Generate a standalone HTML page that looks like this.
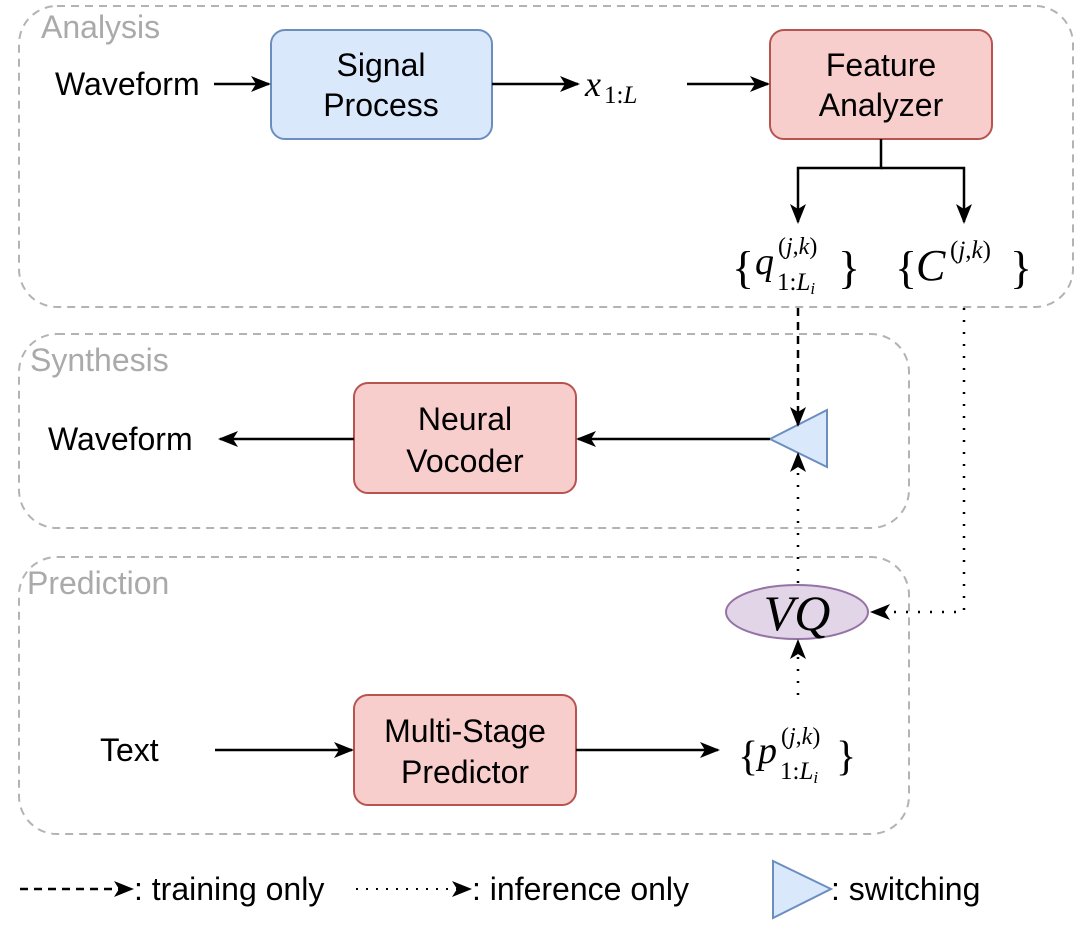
<!DOCTYPE html>
<html><head><meta charset="utf-8"><style>
html,body{margin:0;padding:0;background:#fff;width:1080px;height:944px;overflow:hidden}
svg{display:block}
.t{font-family:"Liberation Sans",sans-serif;font-size:32px;fill:#000}
.g{font-family:"Liberation Sans",sans-serif;font-size:32px;fill:#aaa}
.m{font-family:"Liberation Serif",serif;fill:#000}
</style></head><body>
<svg width="1080" height="944" viewBox="0 0 1080 944" xmlns="http://www.w3.org/2000/svg">
<defs>
<marker id="a" viewBox="0 0 20 20" refX="18" refY="10" markerWidth="20" markerHeight="20" markerUnits="userSpaceOnUse" orient="auto">
<path d="M0,2 L20,10 L0,18 L5,10 Z" fill="#000"/>
</marker>
</defs>
<rect x="19" y="6" width="1054" height="301" rx="38" fill="none" stroke="#b3b3b3" stroke-width="2" stroke-dasharray="8,6"/>
<rect x="19" y="334" width="890" height="194" rx="38" fill="none" stroke="#b3b3b3" stroke-width="2" stroke-dasharray="8,6"/>
<rect x="19" y="557" width="890" height="277" rx="38" fill="none" stroke="#b3b3b3" stroke-width="2" stroke-dasharray="8,6"/>
<text class="g" x="41" y="38">Analysis</text>
<text class="g" x="30" y="371">Synthesis</text>
<text class="g" x="27" y="594">Prediction</text>

<rect x="271" y="30" width="221" height="109" rx="14" fill="#dae8fc" stroke="#6c8ebf" stroke-width="2"/>
<text class="t" x="381" y="76" text-anchor="middle">Signal</text>
<text class="t" x="381" y="116" text-anchor="middle">Process</text>

<rect x="770" y="30" width="222" height="109" rx="14" fill="#f8cecc" stroke="#b85450" stroke-width="2"/>
<text class="t" x="881" y="76" text-anchor="middle">Feature</text>
<text class="t" x="881" y="116" text-anchor="middle">Analyzer</text>

<rect x="354" y="383" width="222" height="110" rx="14" fill="#f8cecc" stroke="#b85450" stroke-width="2"/>
<text class="t" x="465" y="430" text-anchor="middle">Neural</text>
<text class="t" x="465" y="472" text-anchor="middle">Vocoder</text>

<rect x="354" y="695" width="222" height="110" rx="14" fill="#f8cecc" stroke="#b85450" stroke-width="2"/>
<text class="t" x="465" y="742" text-anchor="middle">Multi-Stage</text>
<text class="t" x="465" y="783" text-anchor="middle">Predictor</text>

<polygon points="770,439 827,410 827,467" fill="#dae8fc" stroke="#6c8ebf" stroke-width="2"/>
<ellipse cx="797" cy="612" rx="71" ry="27" fill="#e1d5e7" stroke="#9673a6" stroke-width="2"/>
<text class="m" x="797" y="630" font-size="50" font-style="italic" text-anchor="middle">VQ</text>

<text class="t" x="55" y="95">Waveform</text>
<text class="t" x="48" y="450">Waveform</text>
<text class="t" x="100" y="761">Text</text>

<text class="m" x="585" y="96" font-size="36" font-style="italic">x</text>
<text class="m" x="604" y="103" font-size="25">1:<tspan font-style="italic">L</tspan></text>

<text class="m" x="732" y="283" font-size="46">{</text>
<text class="m" x="755" y="274" font-size="38" font-style="italic">q</text>
<text class="m" x="778" y="254" font-size="24">(<tspan font-style="italic">j</tspan>,<tspan font-style="italic">k</tspan>)</text>
<text class="m" x="777" y="290" font-size="25">1:<tspan font-style="italic">L</tspan><tspan font-size="17" font-style="italic" dy="4">i</tspan></text>
<text class="m" x="838" y="283" font-size="46">}</text>

<text class="m" x="895" y="283" font-size="46">{</text>
<text class="m" x="916" y="280" font-size="44" font-style="italic">C</text>
<text class="m" x="950" y="258" font-size="25">(<tspan font-style="italic">j</tspan>,<tspan font-style="italic">k</tspan>)</text>
<text class="m" x="1010" y="283" font-size="46">}</text>

<text class="m" x="738" y="770" font-size="42">{</text>
<text class="m" x="758" y="763" font-size="38" font-style="italic">p</text>
<text class="m" x="781" y="744" font-size="24">(<tspan font-style="italic">j</tspan>,<tspan font-style="italic">k</tspan>)</text>
<text class="m" x="780" y="779" font-size="25">1:<tspan font-style="italic">L</tspan><tspan font-size="17" font-style="italic" dy="4">i</tspan></text>
<text class="m" x="836" y="770" font-size="42">}</text>

<g stroke="#000" stroke-width="2.5" fill="none">
<line x1="214" y1="84" x2="269" y2="84" marker-end="url(#a)"/>
<line x1="492" y1="84" x2="578" y2="84" marker-end="url(#a)"/>
<line x1="687" y1="84" x2="768" y2="84" marker-end="url(#a)"/>
<polyline points="881,139 881,168 798,168 798,222" marker-end="url(#a)"/>
<polyline points="881,168 964,168 964,222" marker-end="url(#a)"/>
<line x1="770" y1="439" x2="578" y2="439" marker-end="url(#a)"/>
<line x1="354" y1="439" x2="220" y2="439" marker-end="url(#a)"/>
<line x1="215" y1="750" x2="352" y2="750" marker-end="url(#a)"/>
<line x1="576" y1="750" x2="718" y2="750" marker-end="url(#a)"/>
</g>
<line x1="798" y1="308" x2="798" y2="425" stroke="#000" stroke-width="2.5" stroke-dasharray="8,6" marker-end="url(#a)"/>
<g stroke="#000" stroke-width="2.5" fill="none" stroke-dasharray="2,10">
<line x1="798" y1="583" x2="798" y2="454" marker-end="url(#a)"/>
<polyline points="964,308 964,612 872,612" marker-end="url(#a)"/>
<line x1="798" y1="695" x2="798" y2="641" marker-end="url(#a)"/>
</g>

<line x1="20" y1="889" x2="132" y2="889" stroke="#000" stroke-width="2.5" stroke-dasharray="8,6" marker-end="url(#a)"/>
<text class="t" x="134" y="900">: training only</text>
<line x1="356" y1="889" x2="470" y2="889" stroke="#000" stroke-width="2" stroke-dasharray="2,8" marker-end="url(#a)"/>
<text class="t" x="472" y="900">: inference only</text>
<polygon points="773,861 831,889 773,918" fill="#dae8fc" stroke="#6c8ebf" stroke-width="2"/>
<text class="t" x="831" y="900">: switching</text>
</svg>
</body></html>
